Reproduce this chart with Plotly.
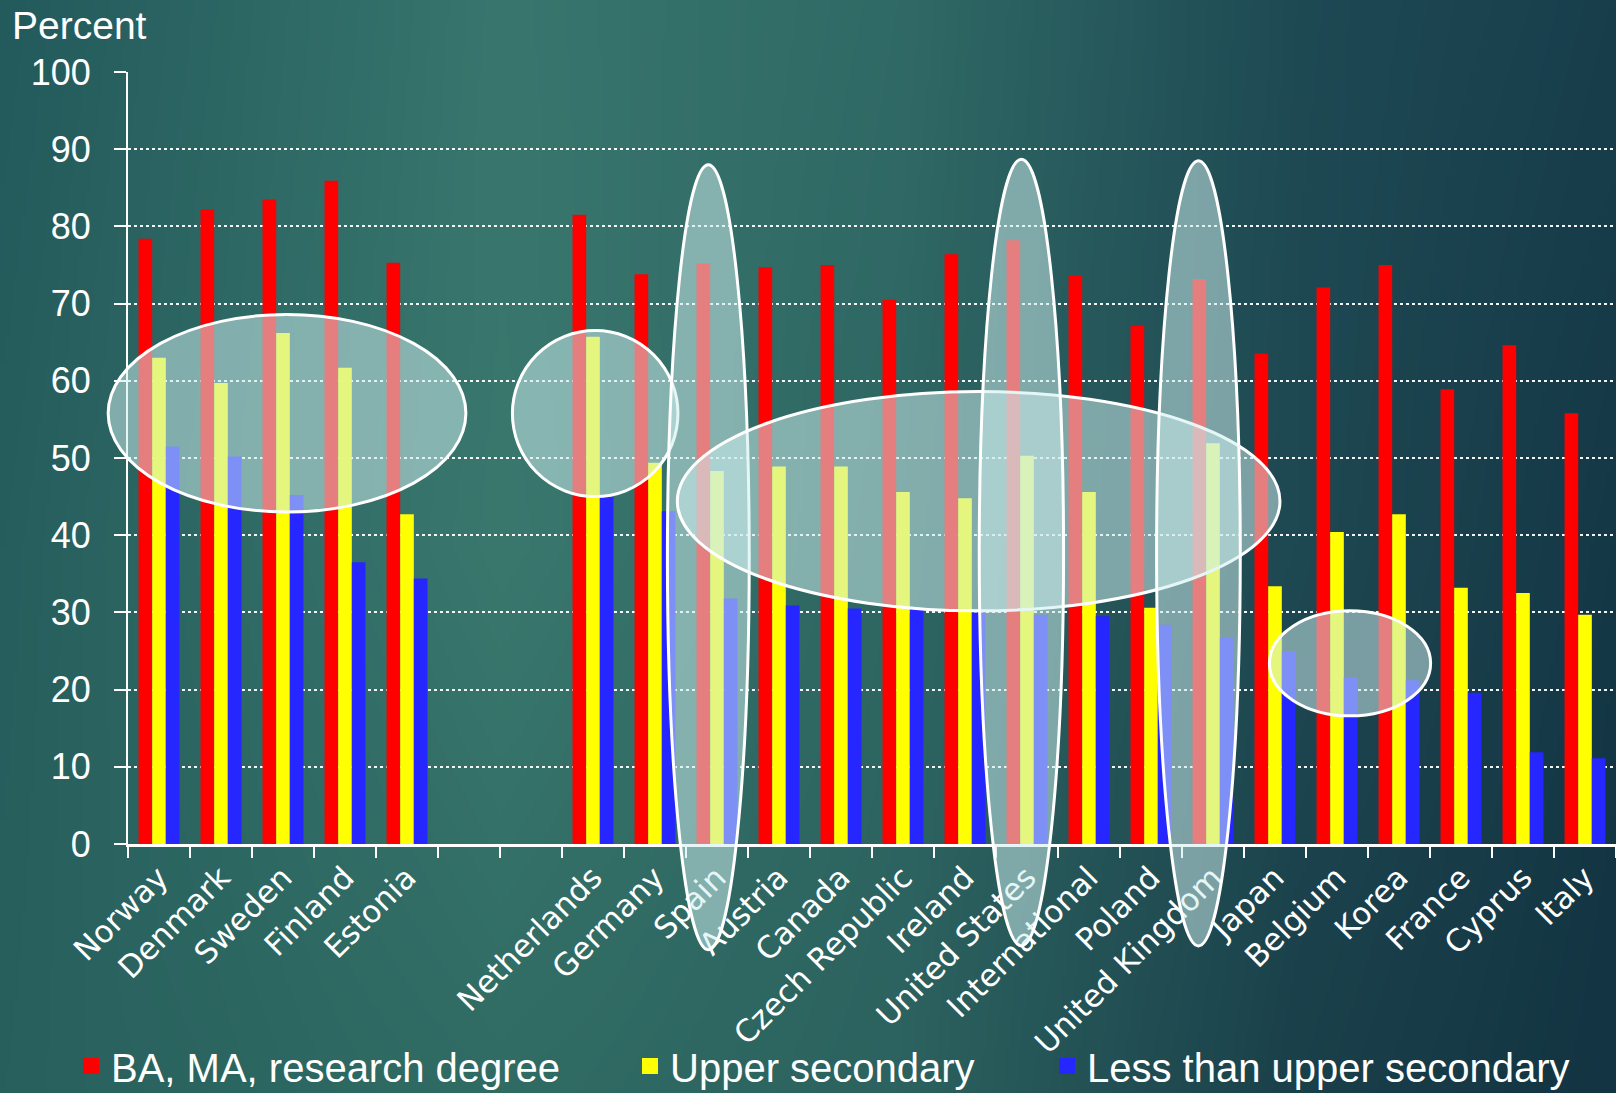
import base64
import struct
import zlib

import numpy as np
import plotly.graph_objects as go

# ---------------- data ----------------
countries = ["Norway", "Denmark", "Sweden", "Finland", "Estonia", " ", "  ",
             "Netherlands", "Germany", "Spain", "Austria", "Canada", "Czech Republic",
             "Ireland", "United States", "International", "Poland", "United Kingdom",
             "Japan", "Belgium", "Korea", "France", "Cyprus", "Italy"]
tertiary = [78.4, 82.2, 83.5, 85.9, 75.3, None, None,
            81.5, 73.8, 75.2, 74.7, 75.0, 70.5, 76.4, 78.2, 73.7, 67.1, 73.2,
            63.5, 72.1, 75.0, 58.9, 64.6, 55.8]
upper_secondary = [63.0, 59.7, 66.2, 61.7, 42.7, None, None,
                   65.7, 49.4, 48.3, 48.9, 48.9, 45.6, 44.8, 50.3, 45.6, 30.6, 51.9,
                   33.4, 40.4, 42.7, 33.2, 32.5, 29.7]
below_upper = [51.5, 50.2, 45.2, 36.5, 34.4, None, None,
               45.0, 43.1, 31.8, 30.9, 30.5, 30.3, 30.0, 29.7, 29.5, 28.4, 26.7,
               25.0, 21.6, 21.2, 19.6, 11.9, 11.1]
series_names = ["BA, MA, research degree", "Upper secondary", "Less than upper secondary"]
y_ticks = [0, 10, 20, 30, 40, 50, 60, 70, 80, 90, 100]

# highlight ellipses: (first category index, last category index, low value, high value)
highlights = [
    (-0.82, 4.95, 43.0, 68.6),    # Nordic group
    (5.70, 8.37, 45.0, 66.5),     # Netherlands
    (8.20, 9.52, -13.7, 88.0),    # Spain
    (8.36, 18.08, 30.2, 58.6),    # middle group
    (13.23, 14.59, -13.2, 88.7),  # United States
    (16.09, 17.44, -13.2, 88.5),  # United Kingdom
    (17.91, 20.51, 16.6, 30.2),   # Belgium
]

colors = ["#ff0000", "#ffff00", "#2626ff"]
W, H = 1616, 1093
L, R, T, B = 128, 0, 72, 249
plot_w = W - L - R
plot_h = H - T - B
n_cat = len(countries)


# ---------------- background gradient ----------------
def make_png(arr):
    h, w, _ = arr.shape
    raw = b"".join(b"\x00" + arr[i].tobytes() for i in range(h))

    def chunk(tag, data):
        c = struct.pack(">I", len(data)) + tag + data
        return c + struct.pack(">I", zlib.crc32(tag + data) & 0xFFFFFFFF)

    return (b"\x89PNG\r\n\x1a\n"
            + chunk(b"IHDR", struct.pack(">IIBBBBB", w, h, 8, 2, 0, 0, 0))
            + chunk(b"IDAT", zlib.compress(raw, 9))
            + chunk(b"IEND", b""))


gx = np.array([0, 500, 900, 1300, 1616], dtype=float)
gy = np.array([0, 546, 1093], dtype=float)
grid = np.array([
    [(35, 90, 92), (56, 118, 110), (48, 106, 102), (30, 74, 84), (24, 62, 76)],
    [(38, 94, 93), (58, 120, 110), (46, 102, 98), (30, 72, 82), (21, 56, 70)],
    [(40, 96, 93), (48, 108, 100), (44, 98, 95), (26, 64, 74), (19, 52, 66)],
], dtype=float)
bw, bh = 404, 274
px = np.linspace(0, W, bw)
py = np.linspace(0, H, bh)
rows = np.stack([np.stack([np.interp(px, gx, grid[r, :, c]) for c in range(3)], -1)
                 for r in range(3)])  # (3, bw, 3)
img = np.stack([np.stack([np.interp(py, gy, rows[:, i, c]) for c in range(3)], -1)
                for i in range(bw)], 1)  # (bh, bw, 3)
img = np.clip(img, 0, 255).astype(np.uint8)
bg_uri = "data:image/png;base64," + base64.b64encode(make_png(img)).decode()

# ---------------- figure ----------------
fig = go.Figure()
for name, vals, col in zip(series_names, [tertiary, upper_secondary, below_upper], colors):
    fig.add_trace(go.Bar(x=countries, y=vals, name=name, marker_color=col,
                         marker_line_width=0, showlegend=False))

legend_ids = ["legend", "legend2", "legend3"]
for name, col, lid in zip(series_names, colors, legend_ids):
    fig.add_trace(go.Scatter(x=[None], y=[None], mode="markers", name=name,
                             marker=dict(symbol="square", size=16, color=col),
                             legend=lid, showlegend=True))

shapes = []
for x0, x1, y0, y1 in highlights:
    shapes.append(dict(type="circle", xref="paper", yref="paper",
                       x0=(x0 + 0.5) / n_cat, x1=(x1 + 0.5) / n_cat,
                       y0=y0 / 100, y1=y1 / 100,
                       fillcolor="rgba(206,238,238,0.53)",
                       line=dict(color="white", width=3), layer="above"))

legend_font = dict(family="Liberation Sans, Arial, sans-serif", size=40, color="white")
legend_common = dict(orientation="h", xref="container", yref="container",
                     xanchor="left", yanchor="middle",
                     bgcolor="rgba(0,0,0,0)", borderwidth=0, font=legend_font,
                     itemclick=False, itemdoubleclick=False)
leg_text_x = [111, 670, 1087]
leg_y = (H - 1066) / H

layout_legends = {}
for lid, tx in zip(legend_ids, leg_text_x):
    layout_legends[lid] = dict(x=(tx - 40) / W, y=leg_y, **legend_common)

fig.update_layout(
    width=W, height=H,
    margin=dict(l=L, r=R, t=T, b=B, pad=0, autoexpand=False),
    paper_bgcolor="#2b6563",
    plot_bgcolor="rgba(0,0,0,0)",
    barmode="group", bargap=0.34, bargroupgap=0,
    shapes=shapes,
    images=[dict(source=bg_uri, xref="paper", yref="paper",
                 x=-L / plot_w, y=1 + T / plot_h,
                 sizex=W / plot_w, sizey=H / plot_h,
                 xanchor="left", yanchor="top", sizing="stretch", layer="below")],
    annotations=[dict(text="Percent", xref="paper", yref="paper",
                      x=(10 - L) / plot_w, y=(H - B - 25) / plot_h,
                      xanchor="left", yanchor="middle", showarrow=False,
                      font=dict(family="Liberation Sans, Arial, sans-serif", size=39,
                                color="white"))],
    **layout_legends,
)

fig.update_xaxes(type="category", categoryorder="array", categoryarray=countries,
                 range=[-0.5, n_cat - 0.5], tickson="boundaries",
                 ticks="outside", ticklen=11, tickwidth=2, tickcolor="white",
                 showline=True, linecolor="white", linewidth=3,
                 showgrid=False, zeroline=False, tickangle=-45, automargin=False,
                 tickfont=dict(family="DejaVu Sans, sans-serif", size=31, color="white"))
fig.update_yaxes(range=[0, 100], tickvals=y_ticks,
                 showgrid=True, gridcolor="rgba(255,255,255,0.95)", griddash="dot",
                 gridwidth=2, ticks="outside", ticklen=12, tickwidth=2, tickcolor="white",
                 showline=True, linecolor="white", linewidth=2, zeroline=False,
                 ticklabelstandoff=16, automargin=False,
                 tickfont=dict(family="Liberation Sans, Arial, sans-serif", size=36,
                               color="white"))

fig.write_html("out.html")
